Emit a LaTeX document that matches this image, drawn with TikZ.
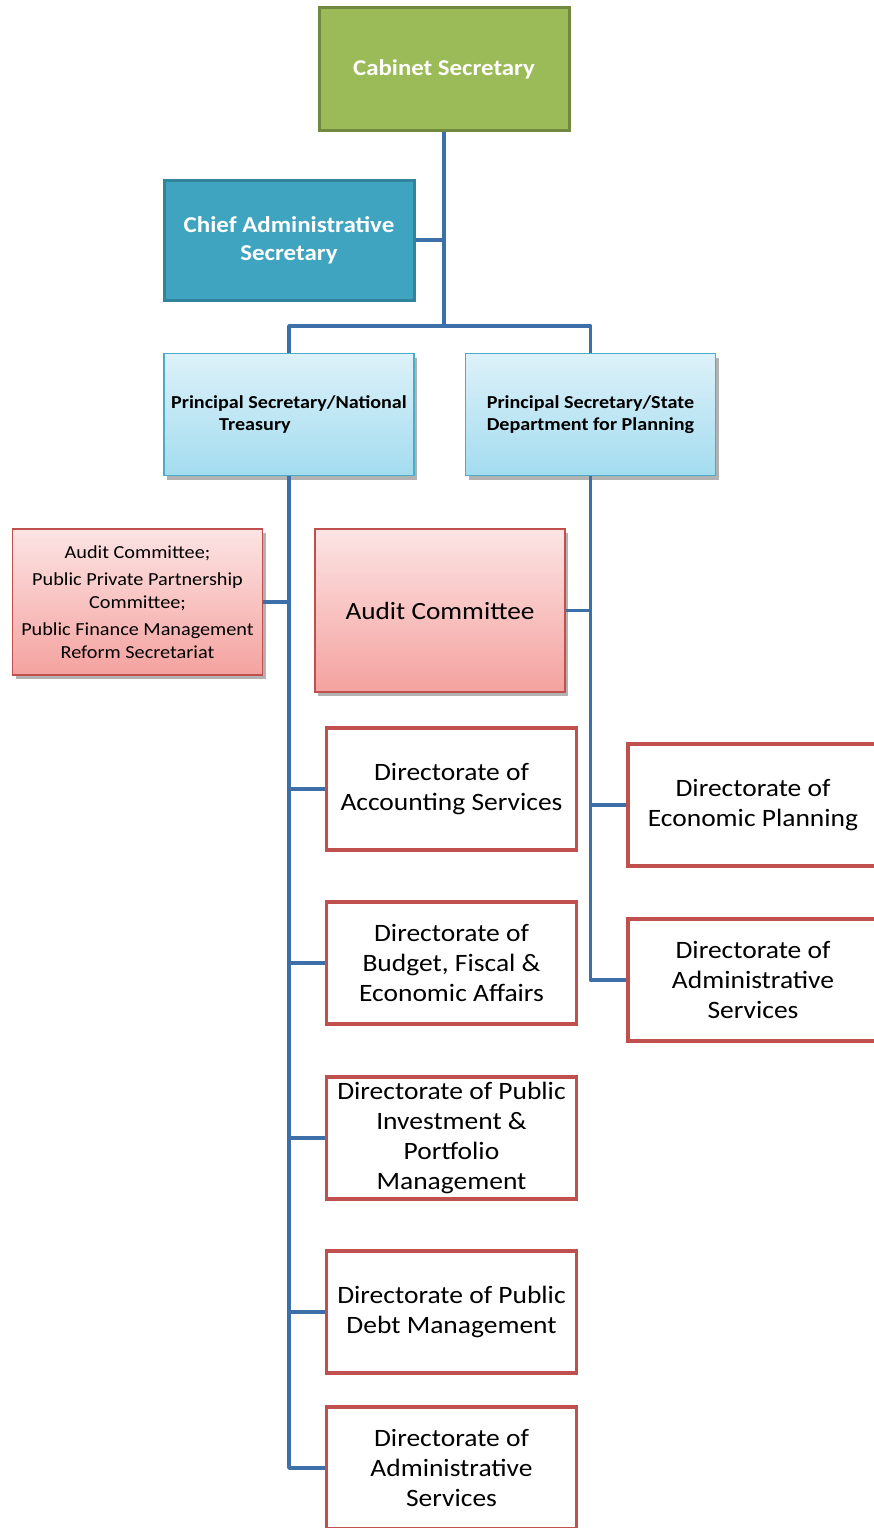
\documentclass[tikz,border=0pt]{standalone}
\usepackage{fontspec}
\setmainfont[FakeStretch=1.1]{Carlito}
\usetikzlibrary{shadows}
\definecolor{cgreen}{HTML}{9BBB59}
\definecolor{cgreendk}{HTML}{71893F}
\definecolor{cteal}{HTML}{3FA4BF}
\definecolor{ctealdk}{HTML}{31849B}
\definecolor{conncol}{HTML}{3D6FA8}
\definecolor{cred}{HTML}{C0504D}
\definecolor{lbtop}{HTML}{DDF1F9}
\definecolor{lbbot}{HTML}{A3DCEF}
\definecolor{lbdraw}{HTML}{4BACC6}
\definecolor{pktop}{HTML}{FCE4E4}
\definecolor{pkbot}{HTML}{F4A29F}
\begin{document}
\begin{tikzpicture}[x=1pt,y=-1pt,
  box/.style={rectangle, inner sep=2pt, align=center, minimum width=250pt},
  greenbox/.style={box, fill=cgreen, draw=cgreendk, line width=3pt, text=white,
    minimum width=250pt, minimum height=122pt, font=\bfseries\fontsize{22.6}{27}\selectfont},
  tealbox/.style={box, fill=cteal, draw=ctealdk, line width=3pt, text=white,
    minimum width=250pt, minimum height=120pt, font=\bfseries\fontsize{22.7}{28}\selectfont},
  psbox/.style={box, top color=lbtop, bottom color=lbbot, draw=lbdraw, line width=1.5pt,
    minimum width=250pt, minimum height=122pt, font=\bfseries\fontsize{18.3}{22}\selectfont,
    drop shadow={shadow xshift=3pt, shadow yshift=-4pt, opacity=.3, fill=black}},
  pinkbox/.style={box, top color=pktop, bottom color=pkbot, draw=cred, line width=1.5pt,
    minimum width=250pt,
    drop shadow={shadow xshift=3pt, shadow yshift=-4pt, opacity=.3, fill=black}},
  dirbox/.style={box, fill=white, draw=cred, line width=3.5pt,
    minimum width=250pt, minimum height=122pt, font=\fontsize{25}{30}\selectfont},
  conn/.style={draw=conncol, line width=3.5pt, line join=round}
]
\useasboundingbox (0,0) rectangle (874,1528);
\clip (0,0) rectangle (874,1528);

% nodes
\node[greenbox] (cab) at (444,69) {Cabinet Secretary};
\node[tealbox] (cas) at (289,240) {Chief Administrative\\Secretary};
\node[psbox] (pst) at (289,414.5) {Principal Secretary/National\\Treasury\hspace*{68pt}};
\node[psbox] (pss) at (590.5,414.5) {Principal Secretary/State\\Department for Planning};

\node[pinkbox, minimum height=146pt, font=\fontsize{18.4}{22.5}\selectfont] (com) at (137.5,602)
  {Audit Committee;\\[5pt]Public Private Partnership\\Committee;\\[5pt]Public Finance Management\\Reform Secretariat};
\node[pinkbox, minimum height=163pt, font=\fontsize{24.8}{30}\selectfont] (aud) at (440,610.5) {Audit Committee};

\node[dirbox] (acc) at (451.5,789) {Directorate of\\Accounting Services};
\node[dirbox] (bud) at (451.5,963) {Directorate of\\Budget, Fiscal \&\\Economic Affairs};
\node[dirbox] (inv) at (451.5,1138) {Directorate of Public\\Investment \&\\Portfolio\\Management};
\node[dirbox] (dbt) at (451.5,1312) {Directorate of Public\\Debt Management};
\node[dirbox] (adm) at (451.5,1468) {Directorate of\\Administrative\\Services};

\node[dirbox] (eco) at (753,805) {Directorate of\\Economic Planning};
\node[dirbox] (ads) at (753,980) {Directorate of\\Administrative\\Services};

% connectors
\coordinate (j1) at (444,326);
\draw[conn] (cab.south) -- (j1);
\draw[conn] (cas.east) -- (cas.east -| cab.south);
\draw[conn] (pst.north) |- (j1) -| (pss.north);
\draw[conn] (pst.south) |- (adm.west);
\draw[conn] (com.east) -- (com.east -| pst.south);
\draw[conn] (acc.west -| pst.south) -- (acc.west);
\draw[conn] (bud.west -| pst.south) -- (bud.west);
\draw[conn] (inv.west -| pst.south) -- (inv.west);
\draw[conn] (dbt.west -| pst.south) -- (dbt.west);
\draw[conn] (pss.south) |- (ads.west);
\draw[conn] (aud.east) -- (aud.east -| pss.south);
\draw[conn] (eco.west -| pss.south) -- (eco.west);
\end{tikzpicture}
\end{document}
